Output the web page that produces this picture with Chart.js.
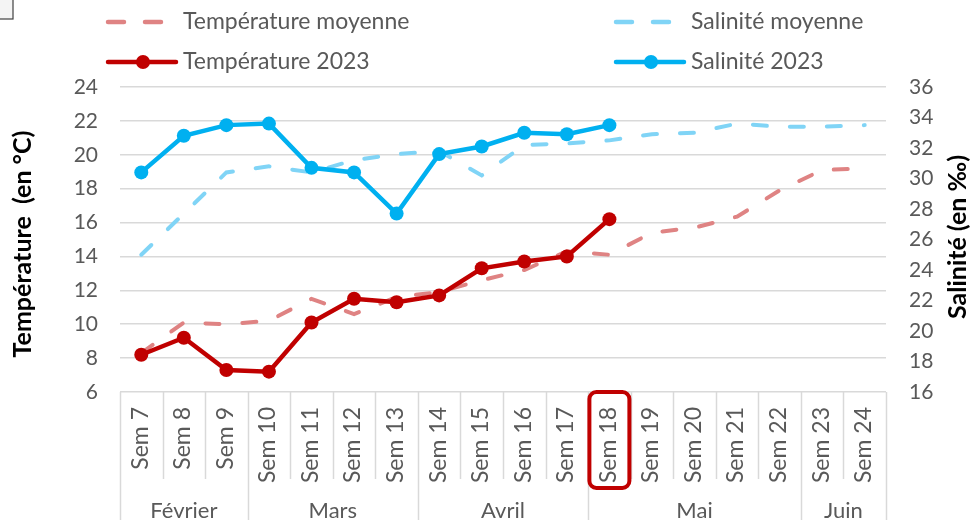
<!DOCTYPE html>
<html>
<head>
<meta charset="utf-8">
<script src="https://cdn.jsdelivr.net/npm/chart.js@4"></script>
<style>
  body { margin: 0; background: #fff; }
  #wrap { position: relative; width: 973px; height: 520px; }
</style>
</head>
<body>
<div id="wrap"><canvas id="myChart" width="973" height="520"></canvas></div>
<script>
// data
const weeks = ['Sem 7', 'Sem 8', 'Sem 9', 'Sem 10', 'Sem 11', 'Sem 12', 'Sem 13', 'Sem 14', 'Sem 15',
    'Sem 16', 'Sem 17', 'Sem 18', 'Sem 19', 'Sem 20', 'Sem 21', 'Sem 22', 'Sem 23', 'Sem 24'];
const months = ['Février', 'Mars', 'Avril', 'Mai', 'Juin'];
const weeksPerMonth = [3, 4, 4, 5, 2];
const highlightWeek = 'Sem 18';

const temp2023 = [8.2, 9.2, 7.3, 7.2, 10.1, 11.5, 11.3, 11.7, 13.3, 13.7, 14.0, 16.2,
    null, null, null, null, null, null];
const sal2023 = [30.4, 32.8, 33.5, 33.6, 30.7, 30.4, 27.7, 31.6, 32.1, 33.0, 32.9, 33.5,
    null, null, null, null, null, null];
const tempMoyenne = [8.3, 10.1, 10.0, 10.2, 11.5, 10.6, 11.6, 11.9, 12.6, 13.2, 14.3, 14.1,
    15.4, 15.7, 16.35, 17.9, 19.1, 19.2];
const salMoyenne = [25.0, 27.7, 30.4, 30.8, 30.4, 31.2, 31.6, 31.8, 30.2, 32.2, 32.3, 32.5,
    32.9, 33.0, 33.6, 33.4, 33.4, 33.5];

const tempTicks = { min: 6, max: 24, step: 2 };
const salTicks = { min: 16, max: 36, step: 2 };

const RED = '#c00000';
const BLUE = '#00b0f0';
const RED_LIGHT = '#df8383';
const BLUE_LIGHT = '#80d4f6';
const TEXT = '#595959';
const GRID = '#d9d9d9';
const FONT = 'Lato, "Open Sans", sans-serif';

// draws legend, axis titles and the two-level x axis
const decorations = {
    id: 'decorations',
    afterDraw(chart) {
        const ctx = chart.ctx;
        const x = chart.scales.x;
        const area = chart.chartArea;
        ctx.save();

        // small box in the top-left corner
        ctx.fillStyle = '#f4f4f4';
        ctx.fillRect(0, 0, 13, 19);
        ctx.strokeStyle = '#404040';
        ctx.lineWidth = 1.2;
        ctx.strokeRect(-1, -1, 14, 20);

        // legend
        const items = [
            { label: 'Température moyenne', color: RED_LIGHT, dashed: true, x: 106, y: 22 },
            { label: 'Température 2023', color: RED, dashed: false, x: 106, y: 62 },
            { label: 'Salinité moyenne', color: BLUE_LIGHT, dashed: true, x: 614, y: 22 },
            { label: 'Salinité 2023', color: BLUE, dashed: false, x: 614, y: 62 }
        ];
        for (const it of items) {
            ctx.strokeStyle = it.color;
            ctx.fillStyle = it.color;
            ctx.lineCap = 'round';
            ctx.lineWidth = 4.5;
            ctx.beginPath();
            if (it.dashed) {
                ctx.moveTo(it.x + 2, it.y); ctx.lineTo(it.x + 18, it.y);
                ctx.moveTo(it.x + 39, it.y); ctx.lineTo(it.x + 55, it.y);
            } else {
                ctx.moveTo(it.x + 2, it.y); ctx.lineTo(it.x + 70, it.y);
            }
            ctx.stroke();
            if (!it.dashed) {
                ctx.beginPath();
                ctx.arc(it.x + 37, it.y, 7, 0, Math.PI * 2);
                ctx.fill();
            }
            ctx.fillStyle = TEXT;
            ctx.font = '23px ' + FONT;
            ctx.textAlign = 'left';
            ctx.textBaseline = 'middle';
            ctx.fillText(it.label, it.x + 77, it.y);
        }

        // axis titles
        ctx.fillStyle = '#000';
        ctx.font = 'bold 25px ' + FONT;
        ctx.textAlign = 'center';
        ctx.textBaseline = 'middle';
        ctx.save();
        ctx.translate(23, 244);
        ctx.rotate(-Math.PI / 2);
        ctx.fillText('Température  (en °C)', 0, 0);
        ctx.restore();
        ctx.save();
        ctx.translate(958, 237);
        ctx.rotate(-Math.PI / 2);
        ctx.fillText('Salinité (en ‰)', 0, 0);
        ctx.restore();

        // x axis: week labels and separators
        const half = (x.getPixelForValue(1) - x.getPixelForValue(0)) / 2;
        ctx.strokeStyle = GRID;
        ctx.lineWidth = 1.5;
        ctx.lineCap = 'butt';
        ctx.beginPath();
        for (let i = 0; i <= weeks.length; i++) {
            const px = Math.round(x.getPixelForValue(i) - half) + 0.5;
            ctx.moveTo(px, area.bottom);
            ctx.lineTo(px, area.bottom + 87);
        }
        let idx = 0;
        const bounds = [0];
        for (const n of weeksPerMonth) { idx += n; bounds.push(idx); }
        for (const b of bounds) {
            const px = Math.round(x.getPixelForValue(b) - half) + 0.5;
            ctx.moveTo(px, area.bottom);
            ctx.lineTo(px, 520);
        }
        ctx.stroke();

        ctx.fillStyle = TEXT;
        ctx.font = '23px ' + FONT;
        weeks.forEach((w, i) => {
            ctx.save();
            ctx.translate(x.getPixelForValue(i) - 1, area.bottom + 15);
            ctx.rotate(-Math.PI / 2);
            ctx.textAlign = 'right';
            ctx.textBaseline = 'middle';
            ctx.fillText(w, 0, 0);
            ctx.restore();
        });

        // month labels
        ctx.font = '22px ' + FONT;
        ctx.textAlign = 'center';
        ctx.textBaseline = 'alphabetic';
        months.forEach((m, k) => {
            const a = x.getPixelForValue(bounds[k]) - half;
            const b = x.getPixelForValue(bounds[k + 1]) - half;
            ctx.fillText(m, (a + b) / 2, 518);
        });

        // highlighted week
        const hi = weeks.indexOf(highlightWeek);
        const cx = x.getPixelForValue(hi);
        ctx.strokeStyle = RED;
        ctx.lineWidth = 4;
        ctx.beginPath();
        ctx.roundRect(cx - 20, area.bottom, 40, 96, 7);
        ctx.stroke();

        ctx.restore();
    }
};

new Chart(document.getElementById('myChart'), {
    type: 'line',
    data: {
        labels: weeks,
        datasets: [
            {
                label: 'Température 2023', data: temp2023, yAxisID: 'y',
                borderColor: RED, backgroundColor: RED, borderWidth: 4.5,
                pointRadius: 7, pointBorderWidth: 0, tension: 0
            },
            {
                label: 'Salinité 2023', data: sal2023, yAxisID: 'y1',
                borderColor: BLUE, backgroundColor: BLUE, borderWidth: 4.5,
                pointRadius: 7, pointBorderWidth: 0, tension: 0
            },
            {
                label: 'Température moyenne', data: tempMoyenne, yAxisID: 'y',
                borderColor: RED_LIGHT, borderWidth: 4, borderDash: [14, 23],
                borderCapStyle: 'round', pointRadius: 0, tension: 0
            },
            {
                label: 'Salinité moyenne', data: salMoyenne, yAxisID: 'y1',
                borderColor: BLUE_LIGHT, borderWidth: 4, borderDash: [14, 23],
                borderCapStyle: 'round', pointRadius: 0, tension: 0
            }
        ]
    },
    options: {
        responsive: false,
        animation: false,
        layout: { padding: { top: 87, bottom: 128, left: 0, right: 0 } },
        plugins: { legend: { display: false }, tooltip: { enabled: false } },
        scales: {
            x: { display: false, offset: true },
            y: {
                position: 'left',
                min: tempTicks.min, max: tempTicks.max,
                afterFit: scale => { scale.width = 120; },
                ticks: { stepSize: tempTicks.step, padding: 22, color: TEXT, font: { family: FONT, size: 21 } },
                grid: { color: GRID, lineWidth: 1.5, drawTicks: false },
                border: { display: false }
            },
            y1: {
                position: 'right',
                min: salTicks.min, max: salTicks.max,
                afterFit: scale => { scale.width = 87; },
                ticks: { stepSize: salTicks.step, padding: 23, color: TEXT, font: { family: FONT, size: 21 } },
                grid: { drawOnChartArea: false, drawTicks: false },
                border: { display: false }
            }
        }
    },
    plugins: [decorations]
});
</script>
</body>
</html>
